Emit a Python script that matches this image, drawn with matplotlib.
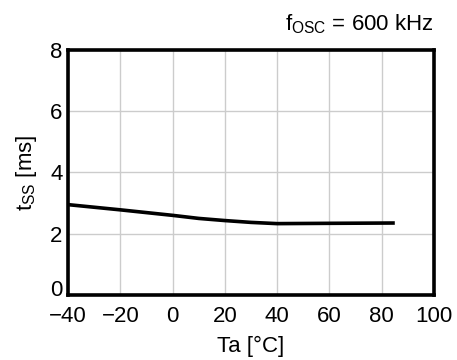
import matplotlib
matplotlib.use('Agg')
import matplotlib.pyplot as plt
import matplotlib.transforms as mtransforms

# data
temp = [-40, -20, 0, 10, 20, 30, 40, 60, 85]
t_ss = [2.95, 2.78, 2.60, 2.50, 2.43, 2.37, 2.33, 2.34, 2.35]
x_ticks = [-40, -20, 0, 20, 40, 60, 80, 100]
x_labels = ['\u221240', '\u221220', '0', '20', '40', '60', '80', '100']
y_ticks = [0, 2, 4, 6, 8]

plt.rcParams['font.family'] = ['Liberation Sans', 'DejaVu Sans']
plt.rcParams['mathtext.default'] = 'regular'
fs = 16

fig = plt.figure(figsize=(4.57, 3.6), dpi=100)
ax = fig.add_axes([0.1488, 0.1806, 0.8009, 0.6806])

ax.plot(temp, t_ss, color='black', linewidth=2.6, solid_capstyle='butt')

ax.set_xlim(-40, 100)
ax.set_ylim(0, 8)
ax.set_xticks(x_ticks)
ax.set_xticklabels(x_labels)
ax.set_yticks(y_ticks)
ax.tick_params(length=0, labelsize=fs)
ax.tick_params(axis='x', pad=8)
ax.tick_params(axis='y', pad=4)
ax.grid(True, color='#cccccc', linewidth=1)
ax.set_axisbelow(True)
for s in ax.spines.values():
    s.set_linewidth(2.6)

# the "0" on the y axis sits a little higher in the original
lbl0 = ax.get_yticklabels()[0]
lbl0.set_transform(lbl0.get_transform() + mtransforms.ScaledTranslation(0, 5 / 72, fig.dpi_scale_trans))

ax.set_xlabel('Ta [\u00b0C]', fontsize=fs, labelpad=6)
ax.set_ylabel('t$_{SS}$ [ms]', fontsize=fs, labelpad=8)
ax.set_title('f$_{OSC}$ = 600 kHz', fontsize=fs, loc='right', pad=14)

fig.savefig('out.png', dpi=100)
